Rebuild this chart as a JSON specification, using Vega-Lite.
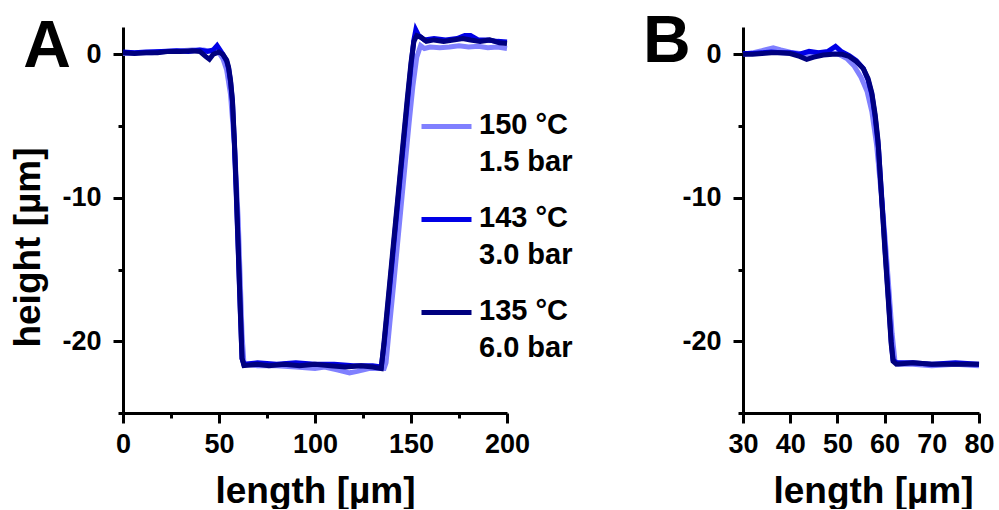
{
  "$schema": "https://vega.github.io/schema/vega-lite/v6.json",
  "background": "white",
  "padding": {"left": 9, "top": 9, "right": 5, "bottom": 0},
  "config": {
    "font": "Liberation Sans",
    "view": {"stroke": null},
    "axis": {
      "grid": false, "domainColor": "black", "domainWidth": 3, "tickColor": "black", "tickWidth": 3,
      "labelFont": "Liberation Sans", "labelFontWeight": "bold", "labelFontSize": 27, "labelColor": "black",
      "titleFont": "Liberation Sans", "titleFontWeight": "bold", "titleFontSize": 37, "titleColor": "black",
      "labelOverlap": false, "labelFlush": false
    },
    "axisX": {"labelPadding": 8, "titlePadding": 16},
    "axisY": {"labelPadding": 12, "titlePadding": 14},
    "style": {"guide-label": {"lineHeight": 37}},
    "concat": {"spacing": 236}
  },
  "datasets": {
    "profileA": [
      {"series": "150 °C|1.5 bar", "length": 0, "height": 0.05},
      {"series": "150 °C|1.5 bar", "length": 8, "height": 0.1},
      {"series": "150 °C|1.5 bar", "length": 15, "height": 0.1},
      {"series": "150 °C|1.5 bar", "length": 22, "height": 0.2},
      {"series": "150 °C|1.5 bar", "length": 30, "height": 0.25},
      {"series": "150 °C|1.5 bar", "length": 36, "height": 0.3},
      {"series": "150 °C|1.5 bar", "length": 42, "height": 0.3},
      {"series": "150 °C|1.5 bar", "length": 46, "height": 0.2},
      {"series": "150 °C|1.5 bar", "length": 50, "height": 0.1},
      {"series": "150 °C|1.5 bar", "length": 52, "height": -0.3},
      {"series": "150 °C|1.5 bar", "length": 54, "height": -1.1},
      {"series": "150 °C|1.5 bar", "length": 56, "height": -2.8},
      {"series": "150 °C|1.5 bar", "length": 58, "height": -6.2},
      {"series": "150 °C|1.5 bar", "length": 60, "height": -11.5},
      {"series": "150 °C|1.5 bar", "length": 61, "height": -15.5},
      {"series": "150 °C|1.5 bar", "length": 62, "height": -19.5},
      {"series": "150 °C|1.5 bar", "length": 63, "height": -21.6},
      {"series": "150 °C|1.5 bar", "length": 70, "height": -21.7},
      {"series": "150 °C|1.5 bar", "length": 80, "height": -21.7},
      {"series": "150 °C|1.5 bar", "length": 90, "height": -21.8},
      {"series": "150 °C|1.5 bar", "length": 100, "height": -21.9},
      {"series": "150 °C|1.5 bar", "length": 105, "height": -21.8},
      {"series": "150 °C|1.5 bar", "length": 112, "height": -22.0},
      {"series": "150 °C|1.5 bar", "length": 118, "height": -22.2},
      {"series": "150 °C|1.5 bar", "length": 122, "height": -22.1},
      {"series": "150 °C|1.5 bar", "length": 128, "height": -21.9},
      {"series": "150 °C|1.5 bar", "length": 136, "height": -21.9},
      {"series": "150 °C|1.5 bar", "length": 137, "height": -21.5},
      {"series": "150 °C|1.5 bar", "length": 139, "height": -18.7},
      {"series": "150 °C|1.5 bar", "length": 141, "height": -16.0},
      {"series": "150 °C|1.5 bar", "length": 143, "height": -13.2},
      {"series": "150 °C|1.5 bar", "length": 145, "height": -10.4},
      {"series": "150 °C|1.5 bar", "length": 147, "height": -7.6},
      {"series": "150 °C|1.5 bar", "length": 149, "height": -4.8},
      {"series": "150 °C|1.5 bar", "length": 151, "height": -2.2},
      {"series": "150 °C|1.5 bar", "length": 153, "height": -0.2},
      {"series": "150 °C|1.5 bar", "length": 155, "height": 0.6},
      {"series": "150 °C|1.5 bar", "length": 157, "height": 0.4},
      {"series": "150 °C|1.5 bar", "length": 160, "height": 0.5},
      {"series": "150 °C|1.5 bar", "length": 165, "height": 0.45},
      {"series": "150 °C|1.5 bar", "length": 170, "height": 0.5},
      {"series": "150 °C|1.5 bar", "length": 175, "height": 0.6},
      {"series": "150 °C|1.5 bar", "length": 180, "height": 0.5},
      {"series": "150 °C|1.5 bar", "length": 185, "height": 0.55},
      {"series": "150 °C|1.5 bar", "length": 190, "height": 0.45},
      {"series": "150 °C|1.5 bar", "length": 195, "height": 0.5},
      {"series": "150 °C|1.5 bar", "length": 200, "height": 0.4},

      {"series": "143 °C|3.0 bar", "length": 0, "height": 0.15},
      {"series": "143 °C|3.0 bar", "length": 6, "height": 0.1},
      {"series": "143 °C|3.0 bar", "length": 12, "height": 0.15},
      {"series": "143 °C|3.0 bar", "length": 20, "height": 0.2},
      {"series": "143 °C|3.0 bar", "length": 28, "height": 0.25},
      {"series": "143 °C|3.0 bar", "length": 34, "height": 0.2},
      {"series": "143 °C|3.0 bar", "length": 40, "height": 0.3},
      {"series": "143 °C|3.0 bar", "length": 44, "height": 0.2},
      {"series": "143 °C|3.0 bar", "length": 47, "height": 0.3},
      {"series": "143 °C|3.0 bar", "length": 49, "height": 0.6},
      {"series": "143 °C|3.0 bar", "length": 50.5, "height": 0.3},
      {"series": "143 °C|3.0 bar", "length": 52, "height": 0.0},
      {"series": "143 °C|3.0 bar", "length": 54, "height": -0.5},
      {"series": "143 °C|3.0 bar", "length": 55, "height": -1.0},
      {"series": "143 °C|3.0 bar", "length": 56, "height": -1.9},
      {"series": "143 °C|3.0 bar", "length": 57, "height": -3.3},
      {"series": "143 °C|3.0 bar", "length": 58, "height": -6.2},
      {"series": "143 °C|3.0 bar", "length": 59, "height": -9.8},
      {"series": "143 °C|3.0 bar", "length": 60, "height": -13.6},
      {"series": "143 °C|3.0 bar", "length": 61, "height": -17.6},
      {"series": "143 °C|3.0 bar", "length": 62, "height": -21.2},
      {"series": "143 °C|3.0 bar", "length": 63, "height": -21.6},
      {"series": "143 °C|3.0 bar", "length": 70, "height": -21.5},
      {"series": "143 °C|3.0 bar", "length": 80, "height": -21.6},
      {"series": "143 °C|3.0 bar", "length": 90, "height": -21.5},
      {"series": "143 °C|3.0 bar", "length": 100, "height": -21.6},
      {"series": "143 °C|3.0 bar", "length": 110, "height": -21.6},
      {"series": "143 °C|3.0 bar", "length": 120, "height": -21.7},
      {"series": "143 °C|3.0 bar", "length": 130, "height": -21.7},
      {"series": "143 °C|3.0 bar", "length": 134.5, "height": -21.8},
      {"series": "143 °C|3.0 bar", "length": 136, "height": -20.2},
      {"series": "143 °C|3.0 bar", "length": 138, "height": -17.5},
      {"series": "143 °C|3.0 bar", "length": 140, "height": -14.7},
      {"series": "143 °C|3.0 bar", "length": 142, "height": -11.9},
      {"series": "143 °C|3.0 bar", "length": 144, "height": -9.1},
      {"series": "143 °C|3.0 bar", "length": 146, "height": -6.3},
      {"series": "143 °C|3.0 bar", "length": 148, "height": -3.5},
      {"series": "143 °C|3.0 bar", "length": 150, "height": -0.8},
      {"series": "143 °C|3.0 bar", "length": 151.5, "height": 1.0},
      {"series": "143 °C|3.0 bar", "length": 152.5, "height": 1.7},
      {"series": "143 °C|3.0 bar", "length": 154, "height": 1.3},
      {"series": "143 °C|3.0 bar", "length": 157, "height": 1.0},
      {"series": "143 °C|3.0 bar", "length": 162, "height": 1.1},
      {"series": "143 °C|3.0 bar", "length": 168, "height": 1.0},
      {"series": "143 °C|3.0 bar", "length": 174, "height": 1.1},
      {"series": "143 °C|3.0 bar", "length": 178, "height": 1.3},
      {"series": "143 °C|3.0 bar", "length": 181, "height": 1.3},
      {"series": "143 °C|3.0 bar", "length": 185, "height": 1.0},
      {"series": "143 °C|3.0 bar", "length": 190, "height": 1.0},
      {"series": "143 °C|3.0 bar", "length": 195, "height": 0.9},
      {"series": "143 °C|3.0 bar", "length": 200, "height": 0.85},

      {"series": "135 °C|6.0 bar", "length": 0, "height": 0.1},
      {"series": "135 °C|6.0 bar", "length": 6, "height": 0.05},
      {"series": "135 °C|6.0 bar", "length": 12, "height": 0.1},
      {"series": "135 °C|6.0 bar", "length": 18, "height": 0.1},
      {"series": "135 °C|6.0 bar", "length": 24, "height": 0.2},
      {"series": "135 °C|6.0 bar", "length": 30, "height": 0.2},
      {"series": "135 °C|6.0 bar", "length": 36, "height": 0.25},
      {"series": "135 °C|6.0 bar", "length": 40, "height": 0.2},
      {"series": "135 °C|6.0 bar", "length": 43, "height": -0.15},
      {"series": "135 °C|6.0 bar", "length": 45, "height": -0.35},
      {"series": "135 °C|6.0 bar", "length": 47, "height": 0.0},
      {"series": "135 °C|6.0 bar", "length": 50, "height": 0.15},
      {"series": "135 °C|6.0 bar", "length": 52, "height": 0.0},
      {"series": "135 °C|6.0 bar", "length": 54, "height": -0.4},
      {"series": "135 °C|6.0 bar", "length": 55, "height": -0.9},
      {"series": "135 °C|6.0 bar", "length": 56, "height": -1.8},
      {"series": "135 °C|6.0 bar", "length": 57, "height": -3.2},
      {"series": "135 °C|6.0 bar", "length": 58, "height": -6.0},
      {"series": "135 °C|6.0 bar", "length": 59, "height": -9.5},
      {"series": "135 °C|6.0 bar", "length": 60, "height": -13.4},
      {"series": "135 °C|6.0 bar", "length": 61, "height": -17.4},
      {"series": "135 °C|6.0 bar", "length": 62, "height": -21.2},
      {"series": "135 °C|6.0 bar", "length": 63, "height": -21.7},
      {"series": "135 °C|6.0 bar", "length": 70, "height": -21.6},
      {"series": "135 °C|6.0 bar", "length": 76, "height": -21.7},
      {"series": "135 °C|6.0 bar", "length": 84, "height": -21.6},
      {"series": "135 °C|6.0 bar", "length": 92, "height": -21.7},
      {"series": "135 °C|6.0 bar", "length": 100, "height": -21.6},
      {"series": "135 °C|6.0 bar", "length": 108, "height": -21.7},
      {"series": "135 °C|6.0 bar", "length": 116, "height": -21.8},
      {"series": "135 °C|6.0 bar", "length": 124, "height": -21.7},
      {"series": "135 °C|6.0 bar", "length": 130, "height": -21.8},
      {"series": "135 °C|6.0 bar", "length": 134.5, "height": -21.9},
      {"series": "135 °C|6.0 bar", "length": 136, "height": -20.0},
      {"series": "135 °C|6.0 bar", "length": 138, "height": -17.2},
      {"series": "135 °C|6.0 bar", "length": 140, "height": -14.4},
      {"series": "135 °C|6.0 bar", "length": 142, "height": -11.6},
      {"series": "135 °C|6.0 bar", "length": 144, "height": -8.8},
      {"series": "135 °C|6.0 bar", "length": 146, "height": -6.0},
      {"series": "135 °C|6.0 bar", "length": 148, "height": -3.2},
      {"series": "135 °C|6.0 bar", "length": 150, "height": -0.6},
      {"series": "135 °C|6.0 bar", "length": 151.5, "height": 0.9},
      {"series": "135 °C|6.0 bar", "length": 153, "height": 1.3},
      {"series": "135 °C|6.0 bar", "length": 155, "height": 1.2},
      {"series": "135 °C|6.0 bar", "length": 158, "height": 0.9},
      {"series": "135 °C|6.0 bar", "length": 162, "height": 1.0},
      {"series": "135 °C|6.0 bar", "length": 167, "height": 0.9},
      {"series": "135 °C|6.0 bar", "length": 172, "height": 1.0},
      {"series": "135 °C|6.0 bar", "length": 177, "height": 1.1},
      {"series": "135 °C|6.0 bar", "length": 181, "height": 1.0},
      {"series": "135 °C|6.0 bar", "length": 186, "height": 0.9},
      {"series": "135 °C|6.0 bar", "length": 191, "height": 1.0},
      {"series": "135 °C|6.0 bar", "length": 196, "height": 0.8},
      {"series": "135 °C|6.0 bar", "length": 200, "height": 0.75}
    ],
    "profileB": [
      {"series": "150 °C|1.5 bar", "length": 30, "height": 0.0},
      {"series": "150 °C|1.5 bar", "length": 32, "height": 0.1},
      {"series": "150 °C|1.5 bar", "length": 34, "height": 0.25},
      {"series": "150 °C|1.5 bar", "length": 36.4, "height": 0.45},
      {"series": "150 °C|1.5 bar", "length": 38, "height": 0.3},
      {"series": "150 °C|1.5 bar", "length": 40, "height": 0.15},
      {"series": "150 °C|1.5 bar", "length": 42, "height": 0.05},
      {"series": "150 °C|1.5 bar", "length": 44, "height": 0.0},
      {"series": "150 °C|1.5 bar", "length": 46, "height": 0.1},
      {"series": "150 °C|1.5 bar", "length": 48, "height": 0.1},
      {"series": "150 °C|1.5 bar", "length": 50, "height": 0.05},
      {"series": "150 °C|1.5 bar", "length": 52, "height": -0.3},
      {"series": "150 °C|1.5 bar", "length": 53.5, "height": -0.8},
      {"series": "150 °C|1.5 bar", "length": 55, "height": -1.6},
      {"series": "150 °C|1.5 bar", "length": 56.3, "height": -2.6},
      {"series": "150 °C|1.5 bar", "length": 57.3, "height": -4.0},
      {"series": "150 °C|1.5 bar", "length": 58.3, "height": -6.3},
      {"series": "150 °C|1.5 bar", "length": 59.2, "height": -9.4},
      {"series": "150 °C|1.5 bar", "length": 60.1, "height": -12.8},
      {"series": "150 °C|1.5 bar", "length": 60.9, "height": -16.3},
      {"series": "150 °C|1.5 bar", "length": 61.6, "height": -19.5},
      {"series": "150 °C|1.5 bar", "length": 62.2, "height": -21.4},
      {"series": "150 °C|1.5 bar", "length": 63, "height": -21.6},
      {"series": "150 °C|1.5 bar", "length": 66, "height": -21.6},
      {"series": "150 °C|1.5 bar", "length": 70, "height": -21.7},
      {"series": "150 °C|1.5 bar", "length": 75, "height": -21.6},
      {"series": "150 °C|1.5 bar", "length": 80, "height": -21.7},

      {"series": "143 °C|3.0 bar", "length": 30, "height": 0.05},
      {"series": "143 °C|3.0 bar", "length": 32, "height": 0.05},
      {"series": "143 °C|3.0 bar", "length": 34, "height": 0.1},
      {"series": "143 °C|3.0 bar", "length": 36, "height": 0.15},
      {"series": "143 °C|3.0 bar", "length": 38, "height": 0.1},
      {"series": "143 °C|3.0 bar", "length": 40, "height": 0.1},
      {"series": "143 °C|3.0 bar", "length": 42, "height": 0.0},
      {"series": "143 °C|3.0 bar", "length": 44, "height": 0.2},
      {"series": "143 °C|3.0 bar", "length": 46, "height": 0.1},
      {"series": "143 °C|3.0 bar", "length": 48, "height": 0.2},
      {"series": "143 °C|3.0 bar", "length": 49.6, "height": 0.55},
      {"series": "143 °C|3.0 bar", "length": 50.8, "height": 0.2},
      {"series": "143 °C|3.0 bar", "length": 52.5, "height": -0.1},
      {"series": "143 °C|3.0 bar", "length": 54, "height": -0.45},
      {"series": "143 °C|3.0 bar", "length": 55.5, "height": -1.0},
      {"series": "143 °C|3.0 bar", "length": 56.5, "height": -1.8},
      {"series": "143 °C|3.0 bar", "length": 57.3, "height": -2.8},
      {"series": "143 °C|3.0 bar", "length": 58, "height": -4.4},
      {"series": "143 °C|3.0 bar", "length": 58.7, "height": -6.5},
      {"series": "143 °C|3.0 bar", "length": 59.4, "height": -10.0},
      {"series": "143 °C|3.0 bar", "length": 60.1, "height": -13.6},
      {"series": "143 °C|3.0 bar", "length": 60.8, "height": -17.0},
      {"series": "143 °C|3.0 bar", "length": 61.4, "height": -20.0},
      {"series": "143 °C|3.0 bar", "length": 61.8, "height": -21.3},
      {"series": "143 °C|3.0 bar", "length": 62.5, "height": -21.5},
      {"series": "143 °C|3.0 bar", "length": 66, "height": -21.5},
      {"series": "143 °C|3.0 bar", "length": 70, "height": -21.6},
      {"series": "143 °C|3.0 bar", "length": 75, "height": -21.5},
      {"series": "143 °C|3.0 bar", "length": 80, "height": -21.6},

      {"series": "135 °C|6.0 bar", "length": 30, "height": 0.0},
      {"series": "135 °C|6.0 bar", "length": 32, "height": 0.0},
      {"series": "135 °C|6.0 bar", "length": 34, "height": 0.05},
      {"series": "135 °C|6.0 bar", "length": 36, "height": 0.1},
      {"series": "135 °C|6.0 bar", "length": 38, "height": 0.1},
      {"series": "135 °C|6.0 bar", "length": 40, "height": 0.05},
      {"series": "135 °C|6.0 bar", "length": 42, "height": -0.15},
      {"series": "135 °C|6.0 bar", "length": 43.5, "height": -0.35},
      {"series": "135 °C|6.0 bar", "length": 45, "height": -0.2},
      {"series": "135 °C|6.0 bar", "length": 47, "height": -0.05},
      {"series": "135 °C|6.0 bar", "length": 49, "height": 0.0},
      {"series": "135 °C|6.0 bar", "length": 51, "height": 0.0},
      {"series": "135 °C|6.0 bar", "length": 52.5, "height": -0.15},
      {"series": "135 °C|6.0 bar", "length": 54, "height": -0.5},
      {"series": "135 °C|6.0 bar", "length": 55.5, "height": -1.0},
      {"series": "135 °C|6.0 bar", "length": 56.5, "height": -1.7},
      {"series": "135 °C|6.0 bar", "length": 57.3, "height": -2.7},
      {"series": "135 °C|6.0 bar", "length": 58, "height": -4.2},
      {"series": "135 °C|6.0 bar", "length": 58.6, "height": -6.0},
      {"series": "135 °C|6.0 bar", "length": 59.4, "height": -10.2},
      {"series": "135 °C|6.0 bar", "length": 60.1, "height": -13.8},
      {"series": "135 °C|6.0 bar", "length": 60.8, "height": -17.2},
      {"series": "135 °C|6.0 bar", "length": 61.4, "height": -20.2},
      {"series": "135 °C|6.0 bar", "length": 61.8, "height": -21.4},
      {"series": "135 °C|6.0 bar", "length": 62.5, "height": -21.6},
      {"series": "135 °C|6.0 bar", "length": 66, "height": -21.5},
      {"series": "135 °C|6.0 bar", "length": 70, "height": -21.6},
      {"series": "135 °C|6.0 bar", "length": 75, "height": -21.6},
      {"series": "135 °C|6.0 bar", "length": 80, "height": -21.6}
    ]
  },
  "bounds": "flush",
  "resolve": {"legend": {"color": "independent"}},
  "hconcat": [
    {
      "width": 384,
      "height": 386,
      "layer": [
        {
          "data": {"name": "profileA"},
          "mark": {"type": "line", "strokeWidth": 5},
          "encoding": {
            "x": {
              "field": "length", "type": "quantitative",
              "scale": {"domain": [0, 200], "nice": false, "zero": false},
              "axis": {
                "title": "length [µm]",
                "values": [0, 25, 50, 75, 100, 125, 150, 175, 200],
                "labelExpr": "datum.value % 50 === 0 ? '' + datum.value : ''",
                "tickSize": {"condition": {"test": "datum.value % 50 === 0", "value": 10}, "value": 5}
              }
            },
            "y": {
              "field": "height", "type": "quantitative",
              "scale": {"domain": [-25, 1.9], "nice": false, "zero": false},
              "axis": {
                "title": "height [µm]",
                "titleY": 220,
                "values": [0, -5, -10, -15, -20, -25],
                "labelExpr": "datum.value % 10 === 0 ? '' + datum.value : ''",
                "tickSize": {"condition": {"test": "datum.value % 10 === 0", "value": 10}, "value": 5}
              }
            },
            "color": {
              "field": "series", "type": "nominal",
              "scale": {"domain": ["150 °C|1.5 bar", "143 °C|3.0 bar", "135 °C|6.0 bar"], "range": ["#8080ff", "#0000e6", "#00007f"]},
              "legend": {
                "orient": "none", "legendX": 296, "legendY": 70, "title": null,
                "symbolType": "M-1,0.08H1", "symbolSize": 2500, "symbolStrokeWidth": 5,
                "labelFont": "Liberation Sans", "labelFontWeight": "bold", "labelFontSize": 29, "labelColor": "black",
                "labelExpr": "split(datum.label, '|')", "labelOffset": 5, "labelLimit": 400,
                "labelBaseline": "middle", "rowPadding": 13
              }
            }
          }
        },
        {
          "data": {"values": [{"panel": "A"}]},
          "mark": {"type": "text", "font": "Liberation Sans", "fontWeight": "bold", "fontSize": 66, "align": "left", "baseline": "alphabetic", "color": "black", "clip": false},
          "encoding": {
            "text": {"field": "panel"},
            "x": {"datum": -52},
            "y": {"datum": -0.92}
          }
        }
      ]
    },
    {
      "width": 236,
      "height": 386,
      "layer": [
        {
          "data": {"name": "profileB"},
          "mark": {"type": "line", "strokeWidth": 5},
          "encoding": {
            "x": {
              "field": "length", "type": "quantitative",
              "scale": {"domain": [30, 80], "nice": false, "zero": false},
              "axis": {
                "title": "length [µm]",
                "titleX": 130,
                "values": [30, 35, 40, 45, 50, 55, 60, 65, 70, 75, 80],
                "labelExpr": "datum.value % 10 === 0 ? '' + datum.value : ''",
                "tickSize": {"condition": {"test": "datum.value % 10 === 0", "value": 10}, "value": 5}
              }
            },
            "y": {
              "field": "height", "type": "quantitative",
              "scale": {"domain": [-25, 1.9], "nice": false, "zero": false},
              "axis": {
                "title": null,
                "values": [0, -5, -10, -15, -20, -25],
                "labelExpr": "datum.value % 10 === 0 ? '' + datum.value : ''",
                "tickSize": {"condition": {"test": "datum.value % 10 === 0", "value": 10}, "value": 5}
              }
            },
            "color": {
              "field": "series", "type": "nominal",
              "scale": {"domain": ["150 °C|1.5 bar", "143 °C|3.0 bar", "135 °C|6.0 bar"], "range": ["#8080ff", "#0000e6", "#00007f"]},
              "legend": null
            }
          }
        },
        {
          "data": {"values": [{"panel": "B"}]},
          "mark": {"type": "text", "font": "Liberation Sans", "fontWeight": "bold", "fontSize": 66, "align": "left", "baseline": "alphabetic", "color": "black", "clip": false},
          "encoding": {
            "text": {"field": "panel"},
            "x": {"datum": 8.8},
            "y": {"datum": -0.57}
          }
        }
      ]
    }
  ]
}
